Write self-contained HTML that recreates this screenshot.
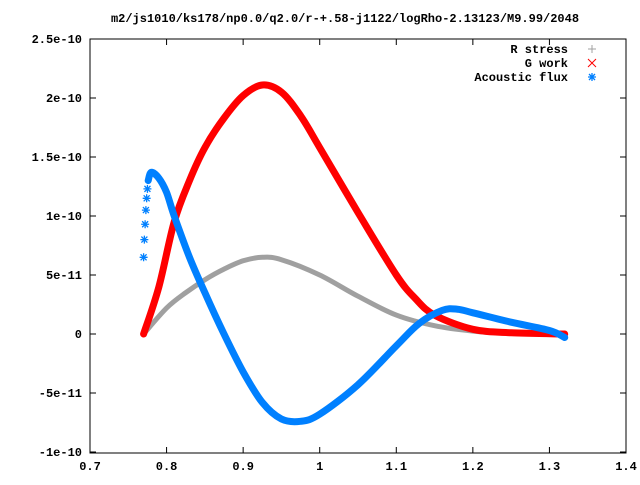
<!DOCTYPE html>
<html><head><meta charset="utf-8"><style>
body{margin:0;background:#fff}
svg text{font-family:"Liberation Mono",monospace;font-size:12px;font-weight:bold}
</style></head><body>
<svg id="chart" width="640" height="480" xmlns="http://www.w3.org/2000/svg">
<text x="345" y="22" text-anchor="middle">m2/js1010/ks178/np0.0/q2.0/r-+.58-j1122/logRho-2.13123/M9.99/2048</text>
<rect x="90" y="39" width="536" height="414" fill="none" stroke="#000"/>
<g id="axes"></g>
<g id="series"></g>
<g>
<text x="568" y="53" text-anchor="end">R stress</text>
<text x="568" y="67" text-anchor="end">G work</text>
<text x="568" y="81" text-anchor="end">Acoustic flux</text>
<path d="M588 49h8M592 45v8" stroke="#a0a0a0"/>
<path d="M588 59l8 8M596 59l-8 8" stroke="#f00"/>
<path d="M588 77h8M592 73v8M589 74l6 6M595 74l-6 6" stroke="#0080ff" stroke-width="1.3"/>
</g>
</svg>
<script>
const xTicks=[0.7,0.8,0.9,1,1.1,1.2,1.3,1.4];
const xTickLabels=["0.7","0.8","0.9","1","1.1","1.2","1.3","1.4"];
const yTicks=[-1e-10,-5e-11,0,5e-11,1e-10,1.5e-10,2e-10,2.5e-10];
const yTickLabels=["-1e-10","-5e-11","0","5e-11","1e-10","1.5e-10","2e-10","2.5e-10"];
const rX=[0.77,0.8,0.825,0.85,0.875,0.9,0.925,0.95,1.0,1.05,1.1,1.15,1.2,1.25,1.32];
const rY=[0,2.2,3.5,4.6,5.5,6.2,6.5,6.3,5.0,3.2,1.6,0.7,0.25,0.05,0];
const gX=[0.77,0.79,0.81,0.83,0.85,0.875,0.9,0.925,0.95,0.975,1.0,1.05,1.1,1.125,1.15,1.2,1.25,1.32];
const gY=[0,4,9.5,13,15.8,18.3,20.2,21.1,20.5,18.5,15.8,10.3,5.0,3.0,1.6,0.4,0.1,0];
const aX=[0.776,0.78,0.79,0.8,0.81,0.83,0.85,0.875,0.9,0.925,0.95,0.975,1.0,1.05,1.1,1.13,1.16,1.18,1.2,1.25,1.3,1.32];
const aY=[13,13.7,13.2,12.0,10.0,6.5,3.5,0,-3.2,-5.8,-7.2,-7.4,-6.8,-4.3,-1.0,0.9,2.0,2.1,1.8,1.0,0.3,-0.3];
const aDotsX=[0.770,0.771,0.772,0.773,0.774,0.775];
const aDotsY=[6.5,8.0,9.3,10.5,11.5,12.3];
const NS="http://www.w3.org/2000/svg";
const sx=v=>90+(v-0.7)/0.7*536;
const sy=v=>334-v/5e-11*59;
const U=1e-11;
const ax=document.getElementById('axes');
function mk(tag,attrs,parent){const e=document.createElementNS(NS,tag);for(const k in attrs)e.setAttribute(k,attrs[k]);parent.appendChild(e);return e;}
xTicks.forEach((t,i)=>{
 const l=mk('path',{d:`M${sx(t)} 453v-6M${sx(t)} 39v6`,stroke:'#000'},ax);
 
 
 const tx=mk('text',{x:sx(t),y:470,'text-anchor':'middle'},ax);tx.textContent=xTickLabels[i];
 
 
});
yTicks.forEach((t,i)=>{
 const l=mk('path',{d:`M90 ${sy(t)}h6M626 ${sy(t)}h-6`,stroke:'#000'},ax);
 
 
 const tx=mk('text',{x:82,y:sy(t)+4,'text-anchor':'end'},ax);tx.textContent=yTickLabels[i];
 
 
});
const sg=document.getElementById('series');
function smooth(P){
 let d=`M${P[0][0].toFixed(1)},${P[0][1].toFixed(1)}`;
 for(let i=0;i<P.length-1;i++){
  const p0=P[Math.max(i-1,0)],p1=P[i],p2=P[i+1],p3=P[Math.min(i+2,P.length-1)];
  const c1=[p1[0]+(p2[0]-p0[0])/6,p1[1]+(p2[1]-p0[1])/6];
  const c2=[p2[0]-(p3[0]-p1[0])/6,p2[1]-(p3[1]-p1[1])/6];
  d+=` C${c1[0].toFixed(1)},${c1[1].toFixed(1)} ${c2[0].toFixed(1)},${c2[1].toFixed(1)} ${p2[0].toFixed(1)},${p2[1].toFixed(1)}`;
 }
 return d;
}
function line(xs,ys,color,w,name){
 const P=xs.map((x,i)=>[sx(x),sy(ys[i]*U)]);
 const p=mk('path',{d:smooth(P),fill:'none',stroke:color,'stroke-width':w,'stroke-linejoin':'round','stroke-linecap':'round'},sg);
 
 
}
line(rX,rY,'#a0a0a0',5,'r-stress-series');
line(gX,gY,'#ff0000',7,'g-work-series');
line(aX,aY,'#0080ff',7,'acoustic-flux-series');
aDotsX.forEach((x,i)=>{
 const cx=sx(x),cy=sy(aDotsY[i]*U);
 const s=mk('path',{d:`M${cx-4} ${cy}h8M${cx} ${cy-4}v8M${cx-3} ${cy-3}l6 6M${cx+3} ${cy-3}l-6 6`,stroke:'#0080ff','stroke-width':1.3},sg);
 
 
});
</script>
</body></html>
